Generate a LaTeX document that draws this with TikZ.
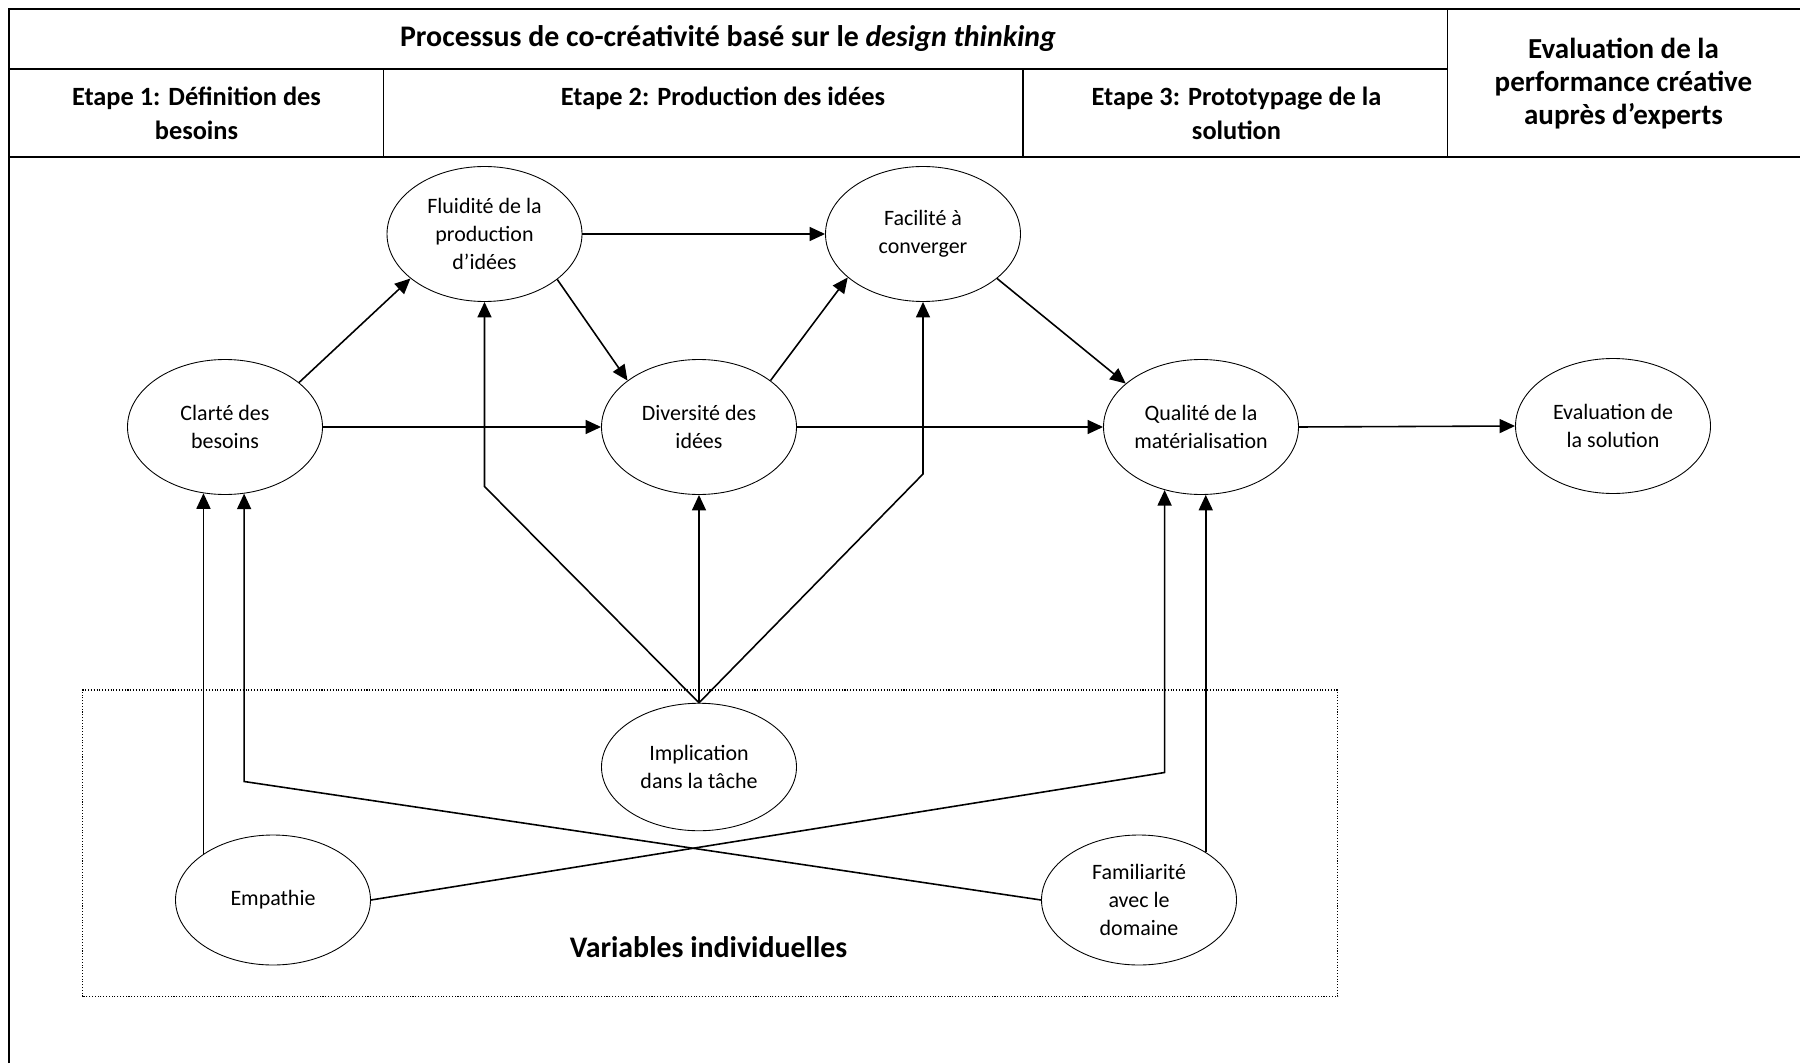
\documentclass[tikz,border=0pt]{standalone}
\usepackage{fontspec}
\setmainfont{Carlito}
\usepackage{tikz}
\usetikzlibrary{shapes.geometric,arrows.meta}

\begin{document}
\begin{tikzpicture}[
    var/.style={ellipse, draw, line width=0.5pt, inner sep=0pt, minimum width=3.9cm,
      minimum height=2.7cm, align=center, font=\fontsize{12.5}{15.7}\selectfont},
    arr/.style={line width=0.9pt, -{Triangle[length=3.1mm,width=2.8mm]}},
    hdr/.style={align=center, inner sep=0pt, font=\bfseries\fontsize{15}{19.6}\selectfont}
  ]
    \useasboundingbox (0,0) rectangle (36,21.26);

    \begin{scope}[line width=0.8pt]
      \draw (0.18,0) -- (0.18,21.08) -- (36,21.08);
      \draw (0.18,19.88) -- (28.95,19.88);
      \draw (0.18,18.12) -- (36,18.12);
      \draw (7.67,19.88) -- (7.67,18.12);
      \draw (20.46,19.88) -- (20.46,18.12);
      \draw (28.95,21.08) -- (28.95,18.12);
    \end{scope}

    \node[hdr, font=\bfseries\fontsize{17}{20}\selectfont] (titre) at (14.56,20.48) {Processus de co-créativité basé sur le \textit{design thinking}};
    \node[hdr, anchor=north] (etape1) at (3.93,19.53) {Etape 1: Définition des\\besoins};
    \node[hdr, anchor=north] (etape2) at (14.46,19.53) {Etape 2: Production des idées};
    \node[hdr, anchor=north] (etape3) at (24.73,19.53) {Etape 3: Prototypage de la\\solution};
    \node[hdr, font=\bfseries\fontsize{16.5}{18.8}\selectfont] (evalexp) at (32.47,19.58) {Evaluation de la\\performance créative\\auprès d’experts};

    \node[var] (clarte) at (4.50,12.72) {Clarté des\\besoins};
    \node[var] (fluidite) at (9.69,16.58) {Fluidité de la\\production\\d’idées};
    \node[var] (facilite) at (18.46,16.58) {Facilité à\\converger};
    \node[var] (diversite) at (13.98,12.72) {Diversité des\\idées};
    \node[var] (qualite) at (24.02,12.72) {Qualité de la\\matérialisation};
    \node[var] (evalsol) at (32.26,12.74) {Evaluation de\\la solution};

    \draw[line width=0.6pt, densely dotted] (1.65,1.33) rectangle (26.75,7.46);
    \node[var, minimum height=2.55cm] (implic) at (13.98,5.92) {Implication\\dans la tâche};
    \node[var, minimum height=2.6cm] (empathie) at (5.46,3.26) {Empathie};
    \node[var, minimum height=2.6cm] (familiar) at (22.78,3.26) {Familiarité\\avec le\\domaine};
    \node[hdr, font=\bfseries\fontsize{17}{20}\selectfont] (varind) at (14.17,2.32) {Variables individuelles};

    \draw[arr] (clarte.31) -- (fluidite.211);
    \draw[arr] (clarte.east) -- (diversite.west);
    \draw[arr] (fluidite.east) -- (facilite.west);
    \draw[arr] (fluidite.-32) -- (diversite.147);
    \draw[arr] (diversite.33) -- (facilite.210);
    \draw[arr] (facilite.-31) -- (qualite.150);
    \draw[arr] (diversite.east) -- (qualite.west);
    \draw[arr] (qualite.east) -- (evalsol.west);

    \coordinate (kA) at (fluidite.south |- 0,11.53);
    \coordinate (kB) at (facilite.south |- 0,11.78);
    \coordinate (kF) at (clarte.-74 |- 0,5.63);
    \coordinate (kE) at (qualite.-120 |- 0,5.81);
    \draw[arr] (implic.north) -- (kA) -- (fluidite.south);
    \draw[arr] (implic.north) -- (kB) -- (facilite.south);
    \draw[arr] (implic.north) -- (diversite.south);
    \draw[arr] (clarte.-108 |- empathie.147) -- (clarte.-108);
    \draw[arr] (familiar.west) -- (kF) -- (clarte.-74);
    \draw[arr] (empathie.east) -- (kE) -- (qualite.-120);
    \draw[arr] (qualite.-86 |- familiar.36) -- (qualite.-86);
  \end{tikzpicture}
\end{document}
